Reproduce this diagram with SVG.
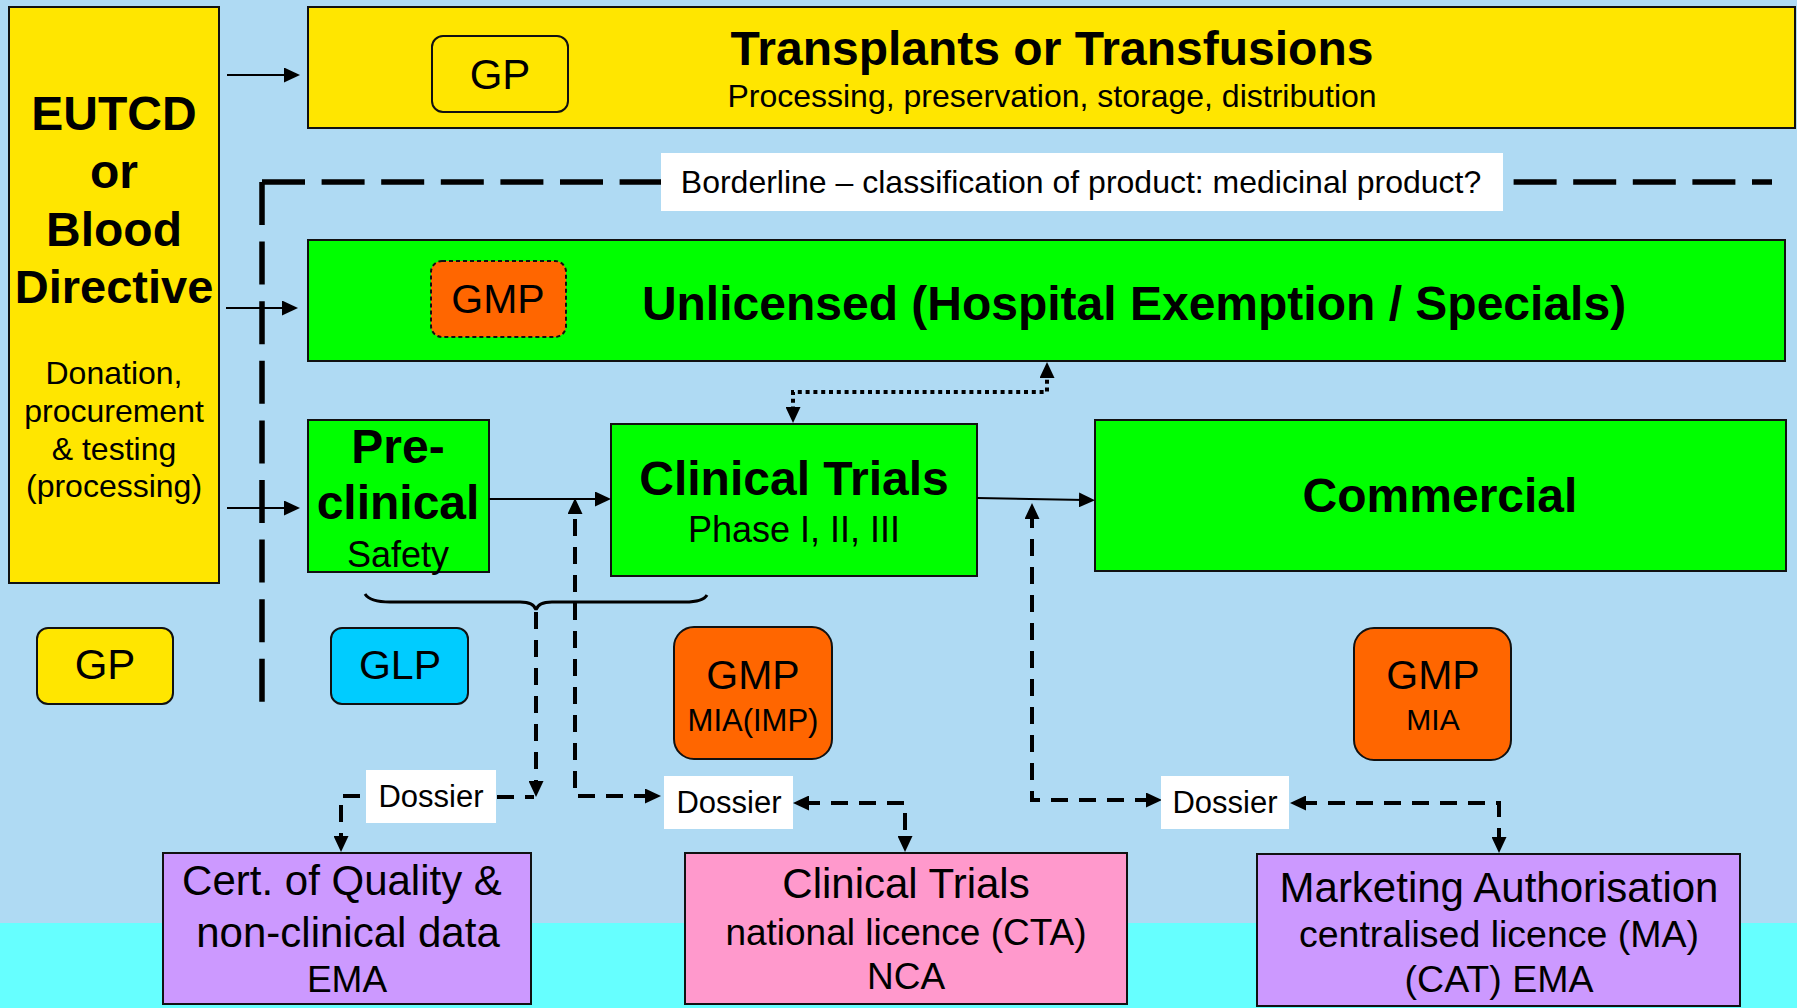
<svg xmlns="http://www.w3.org/2000/svg" width="1797" height="1008" viewBox="0 0 1797 1008">
  <defs>
    <style>
      text { font-family: "Liberation Sans", Arial, sans-serif; fill: #000; text-anchor: middle; }
      .b { font-weight: bold; }
      .box { stroke: #111; stroke-width: 2; }
      .yellow { fill: #FFE600; }
      .green { fill: #00FF00; }
      .orange { fill: #FF6600; }
      .cyanbox { fill: #00CCFF; }
      .purple { fill: #CC99FF; }
      .pink { fill: #FF99CC; }
      .label { fill: #FFFFFF; stroke: none; }
      .solid { fill: none; stroke: #000; stroke-width: 2; }
      .dash { fill: none; stroke: #000; stroke-width: 4; stroke-dasharray: 17 11; }
      .dot { fill: none; stroke: #000; stroke-width: 4; stroke-dasharray: 4 3.8; }
      .border { fill: none; stroke: #000; stroke-width: 5.5; stroke-dasharray: 43 16.6; }
    </style>
    <marker id="ah" viewBox="0 0 16 15" refX="6" refY="7.5" markerWidth="16" markerHeight="15" markerUnits="userSpaceOnUse" orient="auto-start-reverse">
      <path d="M0,0 L16,7.5 L0,15 z" fill="#000"/>
    </marker>
  </defs>

  <!-- background bands -->
  <rect x="0" y="0" width="1797" height="1008" fill="#AFDAF3"/>
  <rect x="0" y="923" width="1797" height="85" fill="#66FFFF"/>

  <!-- borderline divider -->
  <g id="borderline">
    <path class="border" d="M262,182 V703"/>
    <path class="border" d="M262,182 H1772"/>
    <rect class="label" x="661" y="153" width="842" height="58"/>
    <text x="1081" y="193" font-size="32">Borderline – classification of product: medicinal product?</text>
  </g>

  <g id="eutcd">
    <rect class="box yellow" x="9" y="7" width="210" height="576"/>
    <text class="b" font-size="48" x="114" y="130">EUTCD</text>
    <text class="b" font-size="48" x="114" y="188">or</text>
    <text class="b" font-size="48" x="114" y="246">Blood</text>
    <text class="b" font-size="47" x="114" y="303">Directive</text>
    <text font-size="32" x="114" y="384">Donation,</text>
    <text font-size="32" x="114" y="422">procurement</text>
    <text font-size="32" x="114" y="460">&amp; testing</text>
    <text font-size="32" x="114" y="497">(processing)</text>
  </g>

  <g id="transplants">
    <rect class="box yellow" x="308" y="7" width="1487" height="121"/>
    <text class="b" font-size="48" x="1052" y="65">Transplants or Transfusions</text>
    <text font-size="32" x="1052" y="107">Processing, preservation, storage, distribution</text>
  </g>
  <g id="gp-top">
    <rect class="box yellow" x="432" y="36" width="136" height="76" rx="11"/>
    <text font-size="42" x="500" y="89">GP</text>
  </g>

  <g id="unlicensed">
    <rect class="box green" x="308" y="240" width="1477" height="121"/>
    <text class="b" font-size="48" x="1134" y="320">Unlicensed (Hospital Exemption / Specials)</text>
  </g>
  <g id="gmp-hospital">
    <rect class="orange" x="431" y="261" width="135" height="76" rx="11" stroke="#111" stroke-width="2" stroke-dasharray="4 3"/>
    <text font-size="41" x="498" y="313">GMP</text>
  </g>

  <g id="preclinical">
    <rect class="box green" x="308" y="420" width="181" height="152"/>
    <text class="b" font-size="48" x="398" y="463">Pre-</text>
    <text class="b" font-size="48" x="398" y="519">clinical</text>
    <text font-size="36" x="398" y="567">Safety</text>
  </g>

  <g id="clinical-trials">
    <rect class="box green" x="611" y="424" width="366" height="152"/>
    <text class="b" font-size="48" x="794" y="495">Clinical Trials</text>
    <text font-size="36" x="794" y="542">Phase I, II, III</text>
  </g>

  <g id="commercial">
    <rect class="box green" x="1095" y="420" width="691" height="151"/>
    <text class="b" font-size="48" x="1440" y="512">Commercial</text>
  </g>

  <g id="gp-bottom">
    <rect class="box yellow" x="37" y="628" width="136" height="76" rx="11"/>
    <text font-size="42" x="105" y="679">GP</text>
  </g>
  <g id="glp">
    <rect class="box cyanbox" x="331" y="628" width="137" height="76" rx="11"/>
    <text font-size="41" x="400" y="679">GLP</text>
  </g>
  <g id="gmp-mia-imp">
    <rect class="box orange" x="674" y="627" width="158" height="132" rx="20"/>
    <text font-size="41" x="753" y="689">GMP</text>
    <text font-size="31" x="753" y="731">MIA(IMP)</text>
  </g>
  <g id="gmp-mia">
    <rect class="box orange" x="1354" y="628" width="157" height="132" rx="20"/>
    <text font-size="41" x="1433" y="689">GMP</text>
    <text font-size="30" x="1433" y="730">MIA</text>
  </g>

  <g id="cert-quality">
    <rect class="box purple" x="163" y="853" width="368" height="151"/>
    <text font-size="42" x="342" y="895">Cert. of Quality &amp;</text>
    <text font-size="42" x="348" y="947">non-clinical data</text>
    <text font-size="37" x="347" y="992">EMA</text>
  </g>
  <g id="cta">
    <rect class="box pink" x="685" y="853" width="442" height="151"/>
    <text font-size="42" x="906" y="898">Clinical Trials</text>
    <text font-size="37" x="906" y="945">national licence (CTA)</text>
    <text font-size="37" x="906" y="989">NCA</text>
  </g>
  <g id="marketing">
    <rect class="box purple" x="1257" y="854" width="483" height="152"/>
    <text font-size="42" x="1499" y="902">Marketing Authorisation</text>
    <text font-size="37.5" x="1499" y="947">centralised licence (MA)</text>
    <text font-size="37.5" x="1499" y="992">(CAT) EMA</text>
  </g>

  <!-- connectors -->
  <g id="connectors">
    <path class="solid" d="M227,75 H290" marker-end="url(#ah)"/>
    <path class="solid" d="M226,308 H288" marker-end="url(#ah)"/>
    <path class="solid" d="M227,508 H290" marker-end="url(#ah)"/>
    <path class="solid" d="M489,499 H601" marker-end="url(#ah)"/>
    <path class="solid" d="M977,498 L1085,500" marker-end="url(#ah)"/>

    <path class="dot" d="M1047,372 V392 H793 V413" marker-start="url(#ah)" marker-end="url(#ah)"/>

    <path fill="none" stroke="#000" stroke-width="3" d="M365,594 Q370,602 390,602 H520 Q534,602 536,610 Q538,602 552,602 H685 Q703,602 707,595"/>

    <path class="dash" d="M536,612 V787" marker-end="url(#ah)"/>
    <path class="dash" d="M497,797 H534"/>
    <path class="dash" d="M360,796 H341 V842" marker-end="url(#ah)"/>

    <path class="dash" d="M651,796 H575 V508" marker-start="url(#ah)" marker-end="url(#ah)"/>
    <path class="dash" d="M803,803 H905 V842" marker-start="url(#ah)" marker-end="url(#ah)"/>

    <path class="dash" d="M1152,800 H1032 V513" marker-start="url(#ah)" marker-end="url(#ah)"/>
    <path class="dash" d="M1300,803 H1499 V843" marker-start="url(#ah)" marker-end="url(#ah)"/>
  </g>

  <g id="dossier-1">
    <rect class="label" x="366" y="770" width="130" height="53"/>
    <text font-size="31" x="431" y="807">Dossier</text>
  </g>
  <g id="dossier-2">
    <rect class="label" x="664" y="776" width="129" height="53"/>
    <text font-size="31" x="729" y="813">Dossier</text>
  </g>
  <g id="dossier-3">
    <rect class="label" x="1161" y="776" width="128" height="53"/>
    <text font-size="31" x="1225" y="813">Dossier</text>
  </g>
</svg>
